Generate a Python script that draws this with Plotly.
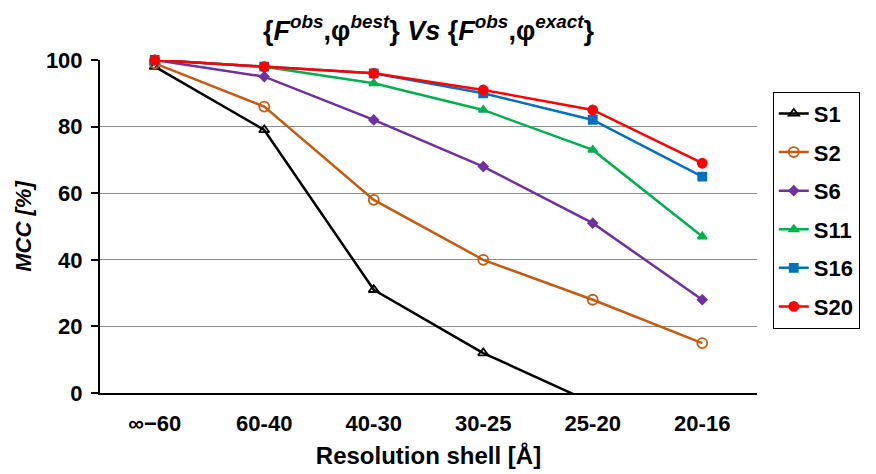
import plotly.graph_objects as go

categories = ["∞−60", "60-40", "40-30", "30-25", "25-20", "20-16"]
s1 = [98, 79, 31, 12, -3, None]
s2 = [99, 86, 58, 40, 28, 15]
s6 = [100, 95, 82, 68, 51, 28]
s11 = [100, 98, 93, 85, 73, 47]
s16 = [100, 98, 96, 90, 82, 65]
s20 = [100, 98, 96, 91, 85, 69]

series = [
    ("S1", s1, "#000000", "triangle-up-open", 9),
    ("S2", s2, "#C55A11", "circle-open", 10),
    ("S6", s6, "#7030A0", "diamond", 7),
    ("S11", s11, "#00B050", "triangle-up", 8),
    ("S16", s16, "#0070C0", "square", 8),
    ("S20", s20, "#FF0000", "circle", 9),
]

fig = go.Figure()
for name, vals, color, sym, size in series:
    fig.add_trace(go.Scatter(
        x=categories, y=vals, name=name, mode="lines+markers",
        line=dict(color=color, width=2.5),
        marker=dict(symbol=sym, size=size, color=color,
                    line=dict(color=color, width=1.8)),
        legendgroup=name,
        cliponaxis=(name == "S1"),
        connectgaps=False,
    ))

font_family = "Liberation Sans, Arial, sans-serif"
title_text = ("<b>{<i>F</i><sup><i>obs</i></sup>,φ<sup><i>best</i></sup>} "
              "<i>Vs</i> {<i>F</i><sup><i>obs</i></sup>,φ<sup><i>exact</i></sup>}</b>")

fig.update_layout(
    width=868, height=466,
    margin=dict(l=92, r=119, t=52, b=81, autoexpand=False),
    paper_bgcolor="white", plot_bgcolor="white",
    font=dict(family=font_family, color="black"),
    title=dict(text=title_text, x=0.5, xref="paper", xanchor="center",
               y=0.952, yref="container", yanchor="middle",
               font=dict(size=27, family=font_family, color="black")),
    showlegend=True,
    legend=dict(x=1.024, xanchor="left", y=0.905, yanchor="top",
                bordercolor="black", borderwidth=1, bgcolor="white",
                font=dict(size=22, family=font_family, color="black", weight="bold"),
                tracegroupgap=7, traceorder="grouped",
                itemwidth=30),
)
fig.update_xaxes(
    type="category", showgrid=False, showline=True, linecolor="black",
    linewidth=2, ticks="", tickfont=dict(size=22, family=font_family, weight="bold"),
    ticklabelstandoff=10, automargin=False,
    title=dict(text="Resolution shell [Å]",
               font=dict(size=24, family=font_family, weight="bold"), standoff=12),
    range=[-0.5, 5.5],
)
fig.update_yaxes(
    range=[0, 100], tickvals=[0, 20, 40, 60, 80, 100],
    showgrid=True, gridcolor="#8c8c8c", gridwidth=1,
    showline=True, linecolor="black", linewidth=2,
    ticks="outside", ticklen=7, tickcolor="black", tickwidth=1.5,
    tickfont=dict(size=22, family=font_family, weight="bold"),
    ticklabelstandoff=4, automargin=False,
    title=dict(text="<i>MCC [%]</i>",
               font=dict(size=22, family=font_family, weight="bold"), standoff=8),
    zeroline=False,
)

fig.write_html("out.html")
